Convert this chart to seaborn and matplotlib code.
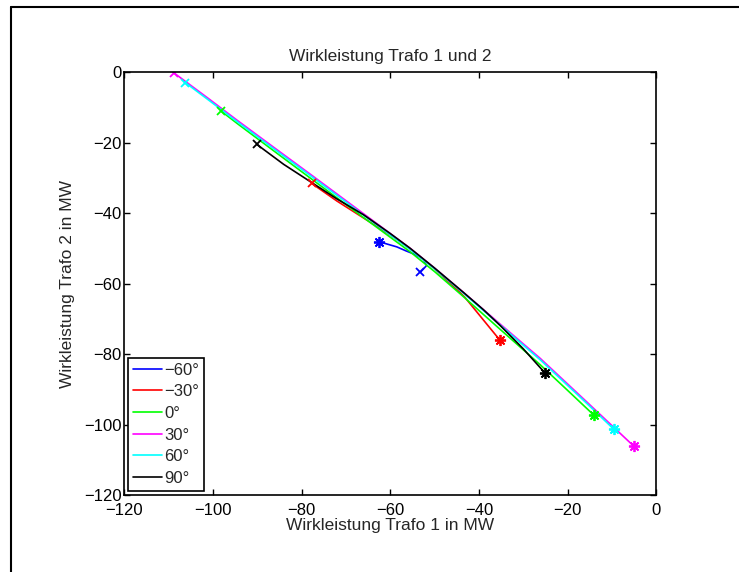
import numpy as np
import pandas as pd
import matplotlib
matplotlib.use("Agg")
import matplotlib.pyplot as plt
from matplotlib.lines import Line2D
import seaborn as sns

# Wirkleistung Trafo 1 (x) und Trafo 2 (y) in MW, je Phasenwinkel
angles = ["\u221260\u00b0", "\u221230\u00b0", "0\u00b0", "30\u00b0", "60\u00b0", "90\u00b0"]
colors = ["#0000ff", "#ff0000", "#00ff00", "#ff00ff", "#00ffff", "#000000"]

p1_m60 = [-53.2, -51.8, -52.6, -54.5, -56.5, -58.5, -62.6]
p2_m60 = [-56.8, -54.9, -53.0, -51.7, -50.7, -49.6, -48.1]

p1_m30 = [-77.7, -72.0, -66.0, -60.0, -55.5, -50.0, -44.2, -43.1, -35.3]
p2_m30 = [-31.6, -36.6, -41.4, -46.2, -50.2, -55.8, -62.6, -64.0, -76.0]

p1_0 = [-98.1, -94.6, -86.0, -78.0, -66.0, -55.5, -50.0, -43.5, -35.2, -26.2, -20.0, -14.1]
p2_0 = [-11.1, -14.5, -22.6, -30.1, -41.3, -51.0, -56.6, -63.7, -73.0, -83.0, -90.3, -97.3]

p1_30 = [-108.7, -101.0, -94.6, -86.0, -78.0, -66.0, -55.5, -50.0, -43.5, -35.2, -26.2, -16.0, -5.1]
p2_30 = [-0.3, -7.5, -13.6, -21.6, -29.0, -40.2, -50.0, -55.6, -62.5, -71.5, -81.2, -93.2, -106.1]

p1_60 = [-106.2, -101.0, -94.6, -86.0, -78.0, -66.0, -55.5, -50.0, -43.5, -35.2, -26.2, -16.0, -9.6]
p2_60 = [-3.0, -7.9, -14.0, -22.0, -29.4, -40.6, -50.3, -55.8, -62.7, -71.8, -81.6, -93.6, -101.3]

p1_90 = [-90.1, -84.0, -78.0, -72.0, -66.0, -60.0, -55.5, -50.0, -43.5, -39.0, -35.2, -30.0, -25.0]
p2_90 = [-20.5, -26.2, -31.1, -36.0, -40.5, -45.8, -50.0, -55.6, -62.5, -67.4, -71.9, -78.5, -85.5]

p1_all = [p1_m60, p1_m30, p1_0, p1_30, p1_60, p1_90]
p2_all = [p2_m60, p2_m30, p2_0, p2_30, p2_60, p2_90]

ticks = [-120, -100, -80, -60, -40, -20, 0]

frames = []
for a, x, y in zip(angles, p1_all, p2_all):
    frames.append(pd.DataFrame({"P1": x, "P2": y, "Winkel": a, "idx": range(len(x))}))
df = pd.concat(frames, ignore_index=True)

sns.set_theme(style="white")
plt.rcParams["font.family"] = ["Liberation Sans", "DejaVu Sans"]

fig = plt.figure(figsize=(7.39, 5.72), dpi=100)
ax = fig.add_axes([0.168, 0.1346, 0.72, 0.7394])

palette = dict(zip(angles, colors))
sns.lineplot(data=df, x="P1", y="P2", hue="Winkel", hue_order=angles,
             palette=palette, sort=False, estimator=None, lw=1.2, ax=ax)

# Start (x) und Ende (*) jeder Kurve
for a, x, y in zip(angles, p1_all, p2_all):
    ax.plot(x[0], y[0], marker="x", ms=6, mew=1.3, color=palette[a], ls="none")
    ax.plot(x[-1], y[-1], marker=(8, 2, 0), ms=8, mew=1.3, color=palette[a], ls="none")

ax.set_xlim(-120, 0)
ax.set_ylim(-120, 0)
ax.set_xticks(ticks)
ax.set_yticks(ticks)
ax.tick_params(direction="in", length=4, width=1, top=True, right=True,
               bottom=True, left=True, labelsize=12, colors="black")
ax.tick_params(axis="x", pad=6)
ax.tick_params(axis="y", pad=2)
for s in ax.spines.values():
    s.set_color("black")
    s.set_linewidth(1.2)

ax.set_title("Wirkleistung Trafo 1 und 2", fontsize=12.5, pad=8)
ax.set_xlabel("Wirkleistung Trafo 1 in MW", fontsize=12.5, labelpad=0)
ax.set_ylabel("Wirkleistung Trafo 2 in MW", fontsize=12.5, labelpad=6)

sns.move_legend(ax, "lower left", title=None, fontsize=12, frameon=True,
                fancybox=False, edgecolor="black", framealpha=1,
                borderpad=0.3, labelspacing=0.4, handlelength=1.7,
                handletextpad=0.15, borderaxespad=0.25)
leg = ax.get_legend()
leg.get_frame().set_linewidth(1.2)

# Rahmen links und oben wie im Original-Export
fig.add_artist(Line2D([0.0149, 0.0149], [0.0, 0.9886], color="black", lw=1.5))
fig.add_artist(Line2D([0.0149, 1.0], [0.9886, 0.9886], color="black", lw=1.5))

fig.savefig("out.png", dpi=100, facecolor="white")
